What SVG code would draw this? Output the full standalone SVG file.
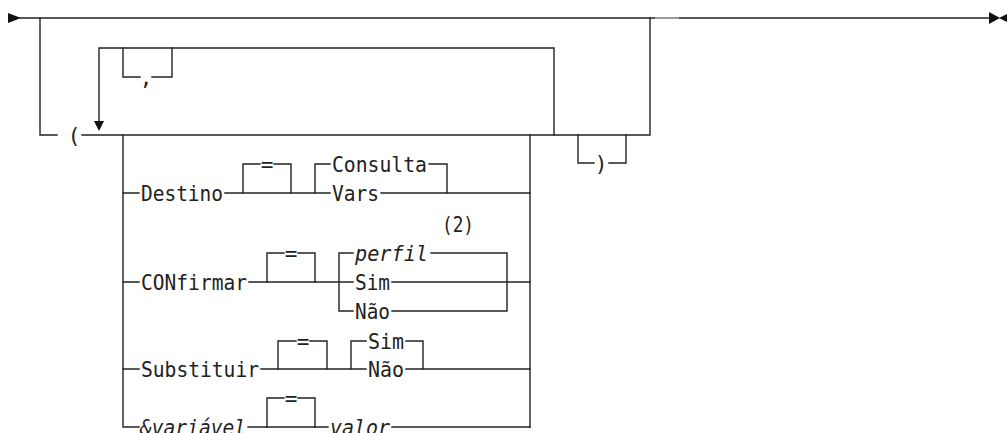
<svg xmlns="http://www.w3.org/2000/svg" width="1007" height="433" viewBox="0 0 1007 433">
<style>
.c{fill:none;stroke:#222;stroke-width:1.4;stroke-linecap:square}
.a{fill:#111;stroke:none}
text{font-family:"DejaVu Sans Mono","Liberation Mono",monospace;font-size:21px;fill:#222}
.i{font-style:italic}
.m{text-anchor:middle}
</style>
<rect width="1007" height="433" fill="#fff"/>
<g id="connectors">
<path class="c" d="M20,18 H990"/>
<path class="c" d="M656,18 H678" style="stroke:#999;stroke-width:2"/>
<path class="c" d="M40,18 V135 H57"/>
<path class="c" d="M82,135 H650 V18"/>
<path class="c" d="M99,122 V48 H554 V135"/>
<path class="c" d="M123,48 V77 H140 M152,77 H172 V48"/>
<path class="c" d="M578,135 V163 H594 M609,163 H626 V135"/>
<path class="c" d="M123,135 V427 H139"/>
<path class="c" d="M530,135 V427"/>
<path class="c" d="M123,193 H139 M225,193 H330 M381,193 H530"/>
<path class="c" d="M243,193 V164 H260 M274,164 H291 V193"/>
<path class="c" d="M315,193 V164 H330 M429,164 H447 V193"/>
<path class="c" d="M123,282 H139 M249,282 H353 M392,282 H530"/>
<path class="c" d="M267,282 V253 H284 M298,253 H315 V282"/>
<path class="c" d="M339,311 V253 H353 M431,253 H507 V311 H392 M339,311 H353"/>
<path class="c" d="M123,369 H139 M261,369 H366 M406,369 H530"/>
<path class="c" d="M278,369 V341 H296 M310,341 H327 V369"/>
<path class="c" d="M351,369 V341 H366 M406,341 H423 V369"/>
<path class="c" d="M248,427 H328 M392,427 H530"/>
<path class="c" d="M267,427 V398 H284 M298,398 H315 V427"/>
<polygon class="a" points="8,13 21,18 8,23"/>
<polygon class="a" points="94,121 104,121 99,131"/>
<polygon class="a" points="989,12 1000,18 989,24"/>
<polygon class="a" points="1007,14 999,18 1007,22"/>
</g>
<g id="node-comma"><text x="146" y="85" class="m">,</text></g>
<g id="node-lparen"><text x="74" y="143" class="m">(</text></g>
<g id="node-rparen"><text x="601" y="171" class="m">)</text></g>
<g id="node-destino"><text x="141" y="201" textLength="82" lengthAdjust="spacingAndGlyphs">Destino</text></g>
<g id="node-destino-eq"><text x="267" y="172" class="m">=</text></g>
<g id="node-consulta"><text x="332" y="172" textLength="95" lengthAdjust="spacingAndGlyphs">Consulta</text></g>
<g id="node-vars"><text x="332" y="201" textLength="47" lengthAdjust="spacingAndGlyphs">Vars</text></g>
<g id="node-confirmar"><text x="141" y="290" textLength="106" lengthAdjust="spacingAndGlyphs">CONfirmar</text></g>
<g id="node-confirmar-eq"><text x="291" y="261" class="m">=</text></g>
<g id="node-note2"><text x="442" y="232" textLength="32" lengthAdjust="spacingAndGlyphs">(2)</text></g>
<g id="node-perfil"><text x="355" y="261" class="i" textLength="73" lengthAdjust="spacingAndGlyphs">perfil</text></g>
<g id="node-sim1"><text x="355" y="290" textLength="35" lengthAdjust="spacingAndGlyphs">Sim</text></g>
<g id="node-nao1"><text x="355" y="319" textLength="35" lengthAdjust="spacingAndGlyphs">Não</text></g>
<g id="node-substituir"><text x="141" y="377" textLength="118" lengthAdjust="spacingAndGlyphs">Substituir</text></g>
<g id="node-substituir-eq"><text x="303" y="349" class="m">=</text></g>
<g id="node-sim2"><text x="368" y="349" textLength="36" lengthAdjust="spacingAndGlyphs">Sim</text></g>
<g id="node-nao2"><text x="368" y="377" textLength="36" lengthAdjust="spacingAndGlyphs">Não</text></g>
<g id="node-variavel"><text x="140" y="435" class="i" textLength="106" lengthAdjust="spacingAndGlyphs">&amp;variável</text></g>
<g id="node-variavel-eq"><text x="291" y="406" class="m">=</text></g>
<g id="node-valor"><text x="330" y="435" class="i" textLength="60" lengthAdjust="spacingAndGlyphs">valor</text></g>
</svg>
